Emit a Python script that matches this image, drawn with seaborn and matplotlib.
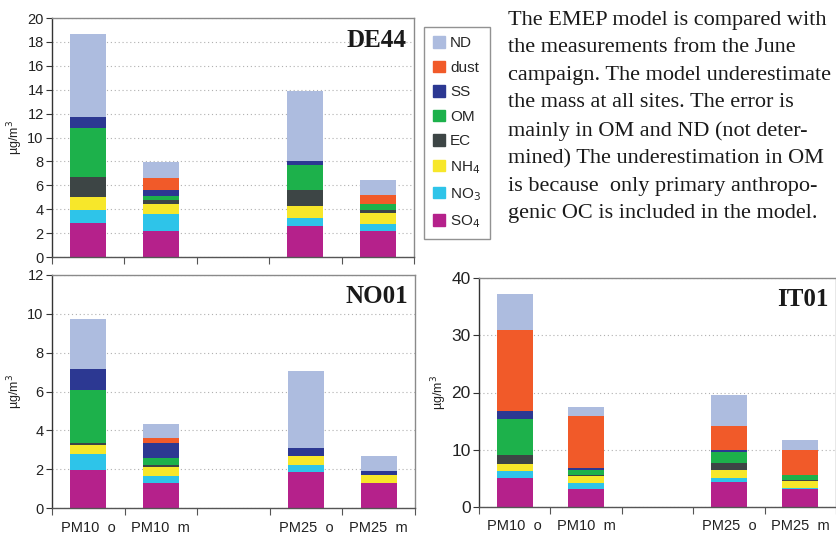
import numpy as np
import pandas as pd
import matplotlib
matplotlib.use("Agg")
import matplotlib.pyplot as plt
import matplotlib.patches as mpatches
import seaborn as sns

sns.set_style("white")
plt.rcParams['font.family'] = ['Liberation Sans', 'DejaVu Sans']

# categories (the empty one is the gap between PM10 and PM25)
categories = ["PM10  o", "PM10  m", " ", "PM25  o", "PM25  m"]
components = ["SO4", "NO3", "NH4", "EC", "OM", "SS", "dust", "ND"]
labels = {"SO4": "SO$_4$", "NO3": "NO$_3$", "NH4": "NH$_4$", "EC": "EC",
          "OM": "OM", "SS": "SS", "dust": "dust", "ND": "ND"}
colors = {"SO4": "#b5218b", "NO3": "#2ec4e9", "NH4": "#f7e72a", "EC": "#3d4545",
          "OM": "#1db14b", "SS": "#2c3892", "dust": "#f15a29", "ND": "#adbcdf"}

# values per component, order of categories above (ug/m3)
de44_SO4 = [2.83, 2.15, 0, 2.57, 2.15]
de44_NO3 = [1.09, 1.43, 0, 0.67, 0.59]
de44_NH4 = [1.08, 0.84, 0, 1.01, 0.92]
de44_EC = [1.69, 0.34, 0, 1.34, 0.26]
de44_OM = [4.11, 0.36, 0, 2.10, 0.50]
de44_SS = [0.92, 0.47, 0, 0.34, 0.00]
de44_dust = [0.00, 1.01, 0, 0.00, 0.75]
de44_ND = [6.97, 1.34, 0, 5.87, 1.26]

no01_SO4 = [1.97, 1.30, 0, 1.87, 1.30]
no01_NO3 = [0.82, 0.36, 0, 0.36, 0.00]
no01_NH4 = [0.47, 0.47, 0, 0.46, 0.41]
no01_EC = [0.10, 0.10, 0, 0.00, 0.00]
no01_OM = [2.73, 0.36, 0, 0.00, 0.00]
no01_SS = [1.08, 0.77, 0, 0.41, 0.21]
no01_dust = [0.00, 0.26, 0, 0.00, 0.00]
no01_ND = [2.57, 0.72, 0, 3.96, 0.77]

it01_SO4 = [5.02, 3.09, 0, 4.32, 3.09]
it01_NO3 = [1.23, 1.06, 0, 0.70, 0.18]
it01_NH4 = [1.22, 1.22, 0, 1.40, 1.23]
it01_EC = [1.58, 0.18, 0, 1.23, 0.17]
it01_OM = [6.31, 0.87, 0, 1.93, 0.88]
it01_SS = [1.40, 0.35, 0, 0.35, 0.00]
it01_dust = [14.19, 9.11, 0, 4.20, 4.38]
it01_ND = [6.31, 1.58, 0, 5.43, 1.75]

sites = {
    "DE44": [de44_SO4, de44_NO3, de44_NH4, de44_EC, de44_OM, de44_SS, de44_dust, de44_ND],
    "NO01": [no01_SO4, no01_NO3, no01_NH4, no01_EC, no01_OM, no01_SS, no01_dust, no01_ND],
    "IT01": [it01_SO4, it01_NO3, it01_NH4, it01_EC, it01_OM, it01_SS, it01_dust, it01_ND],
}

W, H = 837, 536
fig = plt.figure(figsize=(W / 100, H / 100), dpi=100)


def px_axes(left, right, top, bottom):
    return fig.add_axes([left / W, 1 - bottom / H, (right - left) / W, (bottom - top) / H])


def stacked(ax, site, ymax, ystep, ytick_fs, show_xlabels):
    df = pd.DataFrame(np.array(sites[site]).T, columns=components)
    df.insert(0, "cat", categories)
    cum = df[components].cumsum(axis=1)
    # draw from the top of the stack downwards so lower parts overlay
    for comp in components[::-1]:
        sns.barplot(x=df["cat"], y=cum[comp], order=categories, color=colors[comp],
                    width=0.5, saturation=1, linewidth=0, ax=ax, errorbar=None)
    ax.set_xlim(-0.5, 4.5)
    ax.set_ylim(0, ymax)
    ax.set_yticks(np.arange(0, ymax + 0.01, ystep))
    ax.yaxis.grid(True, linestyle=(0, (1, 2.5)), color="#b0b0b0", linewidth=0.8)
    ax.set_axisbelow(True)
    ax.set_xticks(np.arange(-0.5, 5, 1))
    ax.set_xticklabels([])
    ax.set_xticks(range(5), minor=True)
    if show_xlabels:
        ax.set_xticklabels(["PM10  o", "PM10  m", "", "PM25  o", "PM25  m"], minor=True,
                           fontsize=10.5, color="#222222")
    ax.tick_params(axis="x", which="major", direction="out", length=5, width=0.8,
                   color="#555555", bottom=True)
    ax.tick_params(axis="x", which="minor", length=0, pad=9)
    ax.tick_params(axis="y", direction="out", length=4, width=0.8, color="#333333",
                   labelsize=ytick_fs, labelcolor="#222222", left=True, pad=2)
    ax.set_xlabel("")
    ax.set_ylabel("µg/m$^3$", fontsize=9, color="#222222", labelpad=2)
    for s in ["top", "right"]:
        ax.spines[s].set_visible(True)
        ax.spines[s].set_color("#8a8a8a")
        ax.spines[s].set_linewidth(1.0)
    ax.spines["left"].set_color("#333333")
    ax.spines["bottom"].set_color("#555555")
    ax.spines["left"].set_linewidth(1.0)
    ax.spines["bottom"].set_linewidth(1.0)
    ax.text(0.98, 0.955, site, transform=ax.transAxes, ha="right", va="top",
            fontsize=18, fontweight="bold", family="Liberation Serif", color="#1a1a1a")


ax1 = px_axes(52, 414, 18, 257)
stacked(ax1, "DE44", 20, 2, 10.5, False)

ax2 = px_axes(52, 415, 275, 508)
stacked(ax2, "NO01", 12, 2, 10.5, True)

ax3 = px_axes(479, 836, 278, 507)
stacked(ax3, "IT01", 40, 10, 12.5, True)

# legend box
handles = [mpatches.Patch(color=colors[c], label=labels[c]) for c in components[::-1]]
leg = fig.legend(handles=handles, loc="upper left", bbox_to_anchor=(424 / W, 1 - 27 / H),
                 frameon=True, fancybox=False, fontsize=11, handlelength=0.8,
                 handleheight=0.8, handletextpad=0.3, labelspacing=0.68,
                 borderpad=0.6, borderaxespad=0)
leg.get_frame().set_edgecolor("#777777")
leg.get_frame().set_linewidth(1.0)

note = ("The EMEP model is compared with\n"
        "the measurements from the June\n"
        "campaign. The model underestimate\n"
        "the mass at all sites. The error is\n"
        "mainly in OM and ND (not deter-\n"
        "mined) The underestimation in OM\n"
        "is because  only primary anthropo-\n"
        "genic OC is included in the model.")
fig.text(508 / W, 1 - 11 / H, note, ha="left", va="top", fontsize=16,
         family="Liberation Serif", color="#1a1a1a", linespacing=1.6)

fig.savefig("out.png", dpi=100)
